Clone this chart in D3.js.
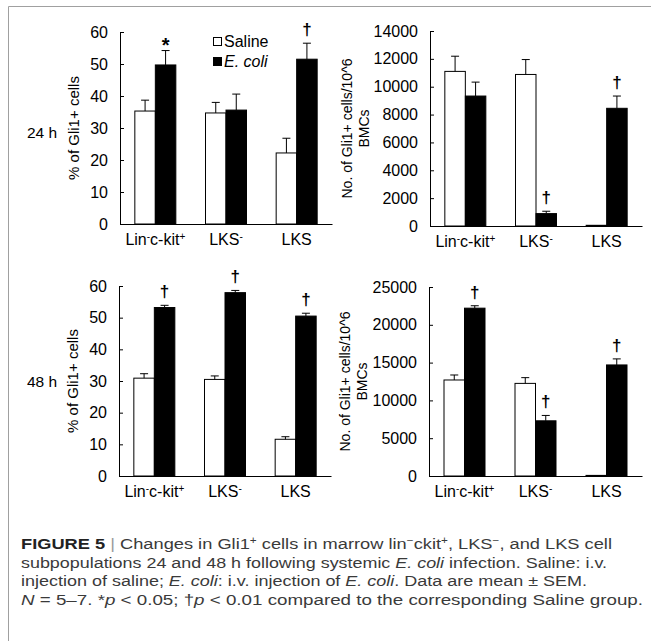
<!DOCTYPE html>
<html>
<head>
<meta charset="utf-8">
<script src="https://cdn.jsdelivr.net/npm/d3@7"></script>
<style>
  body { margin: 0; background: #fff; }
  svg text { font-family: "Liberation Sans", Arial, sans-serif; }
</style>
</head>
<body>
<svg id="fig" width="651" height="641"></svg>
<script>
// ---- data ----
const groups = ["Lin-c-kit+", "LKS-", "LKS"];
const seriesNames = ["Saline", "E. coli"];
const rowLabels = ["24 h", "48 h"];

const pctTicks = [0, 10, 20, 30, 40, 50, 60];
const cnt24Ticks = [0, 2000, 4000, 6000, 8000, 10000, 12000, 14000];
const cnt48Ticks = [0, 5000, 10000, 15000, 20000, 25000];

// 24 h, % of Gli1+ cells
const pct24Saline = [35.3, 34.7, 22.2];
const pct24SalineSem = [3.4, 3.3, 4.6];
const pct24Ecoli = [49.7, 35.6, 51.5];
const pct24EcoliSem = [4.5, 5.0, 5.0];
const pct24Sig = ["*", "", "†"];

// 24 h, No. of Gli1+ cells / 10^6 BMCs
const cnt24Saline = [11100, 10880, 50];
const cnt24SalineSem = [1090, 1070, 0];
const cnt24Ecoli = [9330, 890, 8450];
const cnt24EcoliSem = [1000, 170, 880];
const cnt24Sig = ["", "†", "†"];

// 48 h, % of Gli1+ cells
const pct48Saline = [30.9, 30.5, 11.6];
const pct48SalineSem = [1.4, 1.1, 0.8];
const pct48Ecoli = [53.2, 57.9, 50.5];
const pct48EcoliSem = [0.7, 0.7, 0.9];
const pct48Sig = ["†", "†", "†"];

// 48 h, No. of Gli1+ cells / 10^6 BMCs
const cnt48Saline = [12700, 12250, 80];
const cnt48SalineSem = [660, 760, 0];
const cnt48Ecoli = [22200, 7300, 14690];
const cnt48EcoliSem = [320, 710, 800];
const cnt48Sig = ["†", "†", "†"];

const svg = d3.select("#fig");

// thin frame like the page crop
svg.append("line").attr("x1", 8.5).attr("y1", 6.5).attr("x2", 651).attr("y2", 6.5)
    .attr("stroke", "#a0a0a0");
svg.append("line").attr("x1", 8.5).attr("y1", 6.5).attr("x2", 8.5).attr("y2", 641)
    .attr("stroke", "#a0a0a0");

function labelTspans(sel, label) {
    // superscript trailing + / - like the original tick labels
    sel.text(null);
    if (label === "Lin-c-kit+") {
        sel.append("tspan").text("Lin");
        sel.append("tspan").attr("font-size", 10).attr("baseline-shift", "super").text("-");
        sel.append("tspan").text("c-kit");
        sel.append("tspan").attr("font-size", 10).attr("baseline-shift", "super").text("+");
    } else if (label === "LKS-") {
        sel.append("tspan").text("LKS");
        sel.append("tspan").attr("font-size", 10).attr("baseline-shift", "super").text("-");
    } else {
        sel.append("tspan").text(label);
    }
}

function panel(opts) {
    const x = d3.scaleBand().domain(groups).range([opts.x0, opts.x1]);
    const barW = 20.5;
    const pad = (x.bandwidth() / barW - 2) / 2;
    const xs = d3.scaleBand().domain(seriesNames).range([0, x.bandwidth()])
        .paddingInner(0).paddingOuter(pad);
    const ticks = opts.ticks;
    const y = d3.scaleLinear().domain([0, ticks[ticks.length - 1]]).range([opts.yb, opts.yt]);

    const g = svg.append("g");

    const series = [
        {name: seriesNames[0], vals: opts.saline, sem: opts.salineSem, fill: "#fff"},
        {name: seriesNames[1], vals: opts.ecoli, sem: opts.ecoliSem, fill: "#000"}
    ];

    series.forEach(s => {
        const rows = groups.map((gr, i) => ({g: gr, v: s.vals[i], e: s.sem[i]}));
        g.selectAll(null).data(rows).enter().append("rect")
            .attr("x", d => x(d.g) + xs(s.name))
            .attr("y", d => y(d.v))
            .attr("width", xs.bandwidth())
            .attr("height", d => y(0) - y(d.v))
            .attr("fill", s.fill)
            .attr("stroke", "#000")
            .attr("stroke-width", 1);

        const eb = rows.filter(d => d.e > 0);
        g.selectAll(null).data(eb).enter().append("line")
            .attr("x1", d => x(d.g) + xs(s.name) + xs.bandwidth() / 2)
            .attr("x2", d => x(d.g) + xs(s.name) + xs.bandwidth() / 2)
            .attr("y1", d => y(d.v))
            .attr("y2", d => y(d.v + d.e))
            .attr("stroke", "#000");
        g.selectAll(null).data(eb).enter().append("line")
            .attr("x1", d => x(d.g) + xs(s.name) + xs.bandwidth() / 2 - 4)
            .attr("x2", d => x(d.g) + xs(s.name) + xs.bandwidth() / 2 + 4)
            .attr("y1", d => y(d.v + d.e))
            .attr("y2", d => y(d.v + d.e))
            .attr("stroke", "#000");
    });

    // significance marks above E. coli bars
    const sigRows = groups.map((gr, i) => ({g: gr, v: opts.ecoli[i] + opts.ecoliSem[i], m: opts.sig[i]}))
        .filter(d => d.m !== "");
    g.selectAll(null).data(sigRows).enter().append("text")
        .attr("x", d => x(d.g) + xs(seriesNames[1]) + xs.bandwidth() / 2)
        .attr("y", d => y(d.v) + (d.m === "*" ? 1 : -8))
        .attr("text-anchor", "middle")
        .attr("font-size", d => d.m === "*" ? 20 : 17)
        .attr("font-weight", "bold")
        .text(d => d.m);

    // y axis
    const ya = g.append("g").attr("transform", "translate(" + opts.x0 + ",0)")
        .call(d3.axisLeft(y).tickValues(ticks).tickFormat(d3.format("d"))
            .tickSizeInner(-4).tickSizeOuter(0).tickPadding(12));
    ya.selectAll("text").attr("font-size", 16).attr("fill", "#000")
        .style("font-family", "'Liberation Sans', Arial, sans-serif");
    ya.selectAll("line, path").attr("stroke", "#000");

    // x axis
    const xa = g.append("g").attr("transform", "translate(0," + y(0) + ")")
        .call(d3.axisBottom(x).tickSize(0).tickPadding(10));
    xa.select(".domain").attr("stroke", "#000");
    xa.selectAll("text").attr("font-size", 16).attr("fill", "#000")
        .style("font-family", "'Liberation Sans', Arial, sans-serif")
        .each(function (d) { labelTspans(d3.select(this), d); });

    // y title
    const yc = (opts.yt + opts.yb) / 2;
    opts.title.forEach((t, i) => {
        g.append("text")
            .attr("transform", "translate(" + opts.titleX[i] + "," + yc + ") rotate(-90)")
            .attr("text-anchor", "middle")
            .attr("dominant-baseline", "central")
            .attr("font-size", opts.titleSize)
            .text(t);
    });
    return {x, xs, y, g};
}

panel({x0: 120, x1: 332, yt: 32, yb: 224, ticks: pctTicks,
    saline: pct24Saline, salineSem: pct24SalineSem, ecoli: pct24Ecoli, ecoliSem: pct24EcoliSem,
    sig: pct24Sig, title: ["% of Gli1+ cells"], titleX: [73], titleSize: 15});
panel({x0: 430, x1: 642, yt: 31, yb: 226, ticks: cnt24Ticks,
    saline: cnt24Saline, salineSem: cnt24SalineSem, ecoli: cnt24Ecoli, ecoliSem: cnt24EcoliSem,
    sig: cnt24Sig, title: ["No. of Gli1+ cells/10^6", "BMCs"], titleX: [347, 364], titleSize: 14});
panel({x0: 119, x1: 331, yt: 286, yb: 476, ticks: pctTicks,
    saline: pct48Saline, salineSem: pct48SalineSem, ecoli: pct48Ecoli, ecoliSem: pct48EcoliSem,
    sig: pct48Sig, title: ["% of Gli1+ cells"], titleX: [72], titleSize: 15});
panel({x0: 429, x1: 642, yt: 287, yb: 476, ticks: cnt48Ticks,
    saline: cnt48Saline, salineSem: cnt48SalineSem, ecoli: cnt48Ecoli, ecoliSem: cnt48EcoliSem,
    sig: cnt48Sig, title: ["No. of Gli1+ cells/10^6", "BMCs"], titleX: [345, 362], titleSize: 14});

// row labels
svg.selectAll(null).data(rowLabels).enter().append("text")
    .attr("x", 27)
    .attr("y", (d, i) => i === 0 ? 138 : 387)
    .attr("font-size", 15.5)
    .text(d => d);

// legend inside first panel
const leg = svg.append("g").attr("transform", "translate(213,0)");
seriesNames.forEach((s, i) => {
    leg.append("rect").attr("x", 0.5).attr("y", 37.5 + i * 20).attr("width", 8).attr("height", 8)
        .attr("fill", i === 0 ? "#fff" : "#000").attr("stroke", "#000");
    leg.append("text").attr("x", 11).attr("y", 47 + i * 20).attr("font-size", 16)
        .attr("font-style", i === 1 ? "italic" : "normal").text(s);
});

// caption
const cap = svg.append("g").attr("fill", "#3a3a3a");
const capLines = [
    {y: 549, w: 591, parts: [["FIGURE 5", "b"], [" | ", "bar"], ["Changes in Gli1", ""], ["+", "sup"],
        [" cells in marrow lin", ""], ["\u2212", "sup"], ["ckit", ""], ["+", "sup"], [", LKS", ""], ["\u2212", "sup"],
        [", and LKS cell", ""]]},
    {y: 567.5, w: 586, parts: [["subpopulations 24 and 48 h following systemic ", ""], ["E. coli", "i"],
        [" infection. Saline: i.v.", ""]]},
    {y: 586, w: 566, parts: [["injection of saline; ", ""], ["E. coli", "i"], [": i.v. injection of ", ""],
        ["E. coli", "i"], [". Data are mean \u00b1 SEM.", ""]]},
    {y: 604.5, w: 622, parts: [["N", "i"], [" = 5\u20137. *", ""], ["p", "i"], [" < 0.05; \u2020", ""], ["p", "i"],
        [" < 0.01 compared to the corresponding Saline group.", ""]]}
];
capLines.forEach(line => {
    const t = cap.append("text").attr("x", 21).attr("y", line.y).attr("font-size", 15.5)
        .attr("textLength", line.w).attr("lengthAdjust", "spacingAndGlyphs");
    line.parts.forEach(p => {
        const ts = t.append("tspan").text(p[0]);
        if (p[1] === "b") ts.attr("font-weight", "bold").attr("fill", "#222");
        if (p[1] === "bar") ts.attr("fill", "#999");
        if (p[1] === "i") ts.attr("font-style", "italic");
        if (p[1] === "sup") ts.attr("font-size", 10).attr("baseline-shift", "super");
    });
});
</script>
</body>
</html>
